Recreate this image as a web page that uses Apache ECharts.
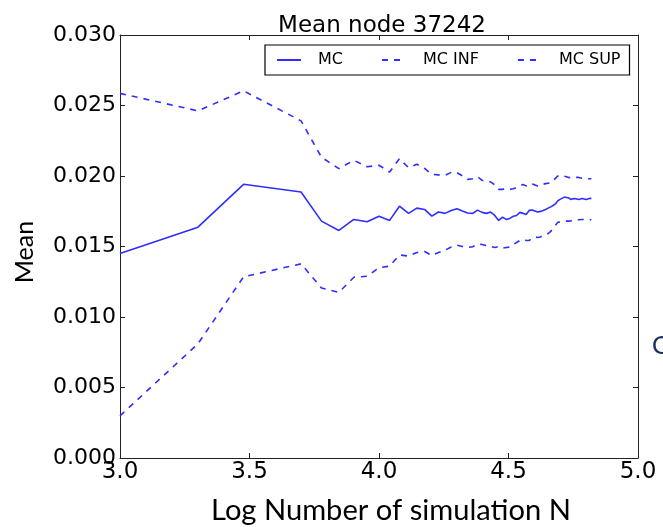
<!DOCTYPE html>
<html><head><meta charset="utf-8">
<script src="https://cdn.jsdelivr.net/npm/echarts@6/dist/echarts.min.js"></script>
<style>html,body{margin:0;padding:0;background:#fff}#c{width:663px;height:527px}</style>
</head><body><div id="c"></div>
<script>
// x = log10(N), N = 1000, 2000, 3000, 5000, 6000 ... 66000
const logN = [3.000, 3.301, 3.477, 3.699, 3.778, 3.845, 3.903, 3.954, 4.000,
  4.041, 4.079, 4.114, 4.146, 4.176, 4.204, 4.230, 4.255, 4.279, 4.301,
  4.322, 4.342, 4.362, 4.380, 4.398, 4.415, 4.431, 4.447, 4.462, 4.477,
  4.491, 4.505, 4.519, 4.531, 4.544, 4.556, 4.568, 4.580, 4.591, 4.602,
  4.613, 4.623, 4.634, 4.643, 4.653, 4.663, 4.672, 4.681, 4.690, 4.699,
  4.708, 4.716, 4.724, 4.732, 4.740, 4.748, 4.756, 4.763, 4.771, 4.778,
  4.785, 4.792, 4.799, 4.806, 4.813, 4.820];

const mc = [0.01450, 0.01637, 0.01941, 0.01886, 0.01680, 0.01614, 0.01692, 0.01675, 0.01715,
  0.01685, 0.01786, 0.01735, 0.01772, 0.01763, 0.01715, 0.01745, 0.01735, 0.01756, 0.01767,
  0.01751, 0.01738, 0.01735, 0.01758, 0.01742, 0.01735, 0.01744, 0.01720, 0.01685, 0.01708,
  0.01692, 0.01699, 0.01715, 0.01720, 0.01742, 0.01735, 0.01727, 0.01756, 0.01759, 0.01752,
  0.01744, 0.01749, 0.01756, 0.01763, 0.01772, 0.01781, 0.01791, 0.01802, 0.01823, 0.01834,
  0.01843, 0.01850, 0.01848, 0.01845, 0.01834, 0.01838, 0.01841, 0.01831, 0.01834, 0.01845,
  0.01841, 0.01838, 0.01834, 0.01838, 0.01841, 0.01841];

const mcInf = [0.00299, 0.00810, 0.01285, 0.01377, 0.01206, 0.01175, 0.01282, 0.01289, 0.01349,
  0.01361, 0.01440, 0.01432, 0.01457, 0.01464, 0.01437, 0.01457, 0.01474, 0.01496, 0.01509,
  0.01500, 0.01493, 0.01498, 0.01518, 0.01514, 0.01507, 0.01500, 0.01493, 0.01500, 0.01489,
  0.01493, 0.01496, 0.01514, 0.01528, 0.01543, 0.01550, 0.01543, 0.01543, 0.01557, 0.01568,
  0.01564, 0.01568, 0.01578, 0.01584, 0.01592, 0.01607, 0.01628, 0.01649, 0.01671, 0.01674,
  0.01678, 0.01680, 0.01680, 0.01680, 0.01681, 0.01686, 0.01688, 0.01690, 0.01690, 0.01692,
  0.01692, 0.01692, 0.01692, 0.01692, 0.01690, 0.01690];

const mcSup = [0.02586, 0.02462, 0.02604, 0.02391, 0.02133, 0.02052, 0.02111, 0.02066, 0.02076,
  0.02028, 0.02123, 0.02059, 0.02083, 0.02054, 0.02012, 0.02008, 0.02005, 0.02026, 0.02024,
  0.02001, 0.01976, 0.01980, 0.01995, 0.01969, 0.01964, 0.01958, 0.01937, 0.01905, 0.01905,
  0.01910, 0.01905, 0.01909, 0.01919, 0.01930, 0.01939, 0.01930, 0.01928, 0.01943, 0.01937,
  0.01929, 0.01937, 0.01942, 0.01946, 0.01949, 0.01952, 0.01966, 0.01983, 0.02000, 0.02001,
  0.02005, 0.01999, 0.01994, 0.01989, 0.01988, 0.01988, 0.01990, 0.01992, 0.01990, 0.01988,
  0.01984, 0.01981, 0.01981, 0.01980, 0.01980, 0.01980];

const seriesNames = ['MC', 'MC INF', 'MC SUP'];
const titleText = 'Mean node 37242';
const xName = 'Log Number of simulation N';
const yName = 'Mean';
const xRange = [3.0, 5.0], xStep = 0.5;
const yRange = [0.0, 0.030], yStep = 0.005;

const BLUE = '#2e2eff';
const AX = '#222';
const tickFont = 'DejaVu Sans';
const labelFont = 'Lato';

const chart = echarts.init(document.getElementById('c'), null, {renderer: 'canvas'});

function pairs(ys) { return logN.map((x, i) => [x, ys[i]]); }

const axBase = {
  type: 'value',
  splitLine: {show: false},
  axisLine: {show: true, onZero: false, lineStyle: {color: AX, width: 1}},
  axisTick: {show: true, inside: true, length: 5, lineStyle: {color: AX, width: 1}}
};

chart.setOption({
  animation: false,
  backgroundColor: '#fff',
  title: {
    text: titleText, left: 377, top: 10, textAlign: 'center',
    textStyle: {fontFamily: tickFont, fontSize: 23, fontWeight: 'normal', color: '#000'}
  },
  legend: {
    data: seriesNames,
    left: 265, top: 45,
    orient: 'horizontal',
    borderColor: '#000', borderWidth: 1.2,
    padding: [7, 9, 7, 11],
    itemWidth: 24, itemHeight: 14, itemGap: 38,
    itemStyle: {opacity: 0},
    textStyle: {fontFamily: tickFont, fontSize: 16, color: '#000', padding: [0, 0, 0, 12]}
  },
  grid: {left: 120, right: 25, top: 35, bottom: 69, containLabel: false},
  xAxis: [
    Object.assign({}, axBase, {
      position: 'bottom', min: xRange[0], max: xRange[1], interval: xStep,
      axisLabel: {show: true, margin: 3, fontFamily: tickFont, fontSize: 23, color: '#000',
        formatter: v => v.toFixed(1)}
    }),
    Object.assign({}, axBase, {
      position: 'top', min: xRange[0], max: xRange[1], interval: xStep,
      axisLabel: {show: false}
    })
  ],
  yAxis: [
    Object.assign({}, axBase, {
      position: 'left', min: yRange[0], max: yRange[1], interval: yStep,
      axisLabel: {show: true, margin: 4, fontFamily: tickFont, fontSize: 22, color: '#000',
        formatter: v => v.toFixed(3)}
    }),
    Object.assign({}, axBase, {
      position: 'right', min: yRange[0], max: yRange[1], interval: yStep,
      axisLabel: {show: false}
    })
  ],
  series: [
    {name: seriesNames[0], type: 'line', data: pairs(mc), symbol: 'none', showSymbol: false,
      lineStyle: {color: BLUE, width: 1.6, type: 'solid'}, itemStyle: {color: BLUE}},
    {name: seriesNames[1], type: 'line', data: pairs(mcInf), symbol: 'none', showSymbol: false,
      lineStyle: {color: BLUE, width: 1.6, type: [6, 6]}, itemStyle: {color: BLUE}},
    {name: seriesNames[2], type: 'line', data: pairs(mcSup), symbol: 'none', showSymbol: false,
      lineStyle: {color: BLUE, width: 1.6, type: [6, 6]}, itemStyle: {color: BLUE}}
  ],
  graphic: [
    {type: 'text', x: 25, y: 252, rotation: Math.PI / 2,
      style: {text: yName, fontFamily: labelFont, fontSize: 25, fill: '#000',
        align: 'center', verticalAlign: 'middle'}},
    {type: 'text', x: 391, y: 511, scaleX: 1.04,
      style: {text: xName, fontFamily: labelFont, fontSize: 28, fill: '#000',
        align: 'center', verticalAlign: 'middle'}},
    {type: 'text', x: 652, y: 346,
      style: {text: 'C', fontFamily: labelFont, fontSize: 25, fill: '#1c3160',
        align: 'left', verticalAlign: 'middle'}}
  ]
});
</script>
</body></html>
